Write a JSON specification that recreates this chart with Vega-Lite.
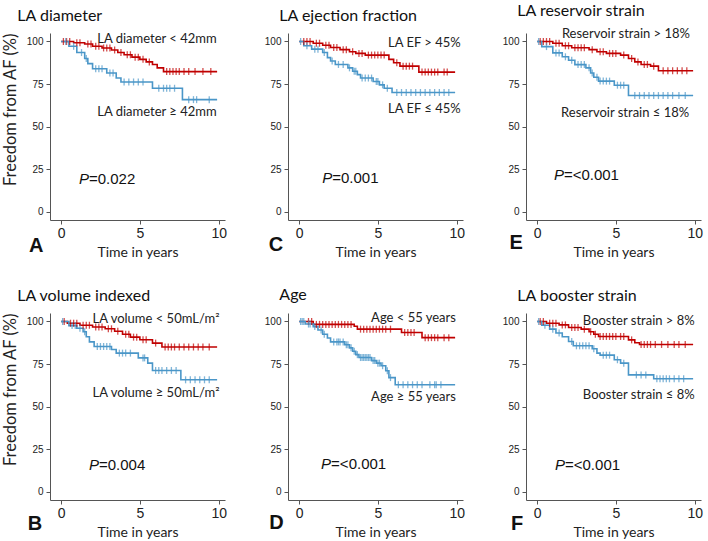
{
"$schema": "https://vega.github.io/schema/vega-lite/v6.json",
"background": "white",
"padding": {"left": 2, "top": 3, "right": 5, "bottom": 3},
"config": {
  "view": {"stroke": null},
  "axis": {"grid": false, "domainColor": "#555", "tickColor": "#555", "labelColor": "#222", "titleColor": "#222", "titleFontWeight": "normal"},
  "axisX": {"labelFont": "Liberation Sans", "labelFontSize": 14, "tickSize": 4, "labelPadding": 2, "titleFont": "Lato", "titleFontSize": 14, "titlePadding": 5},
  "axisY": {"labelFont": "Liberation Sans", "labelFontSize": 10, "tickSize": 4, "labelPadding": 3, "titleFont": "Lato", "titleFontSize": 16.5, "titlePadding": 8, "titleAnchor": "end"},
  "title": {"font": "Lato", "fontSize": 16, "fontWeight": "normal", "anchor": "start", "dx": 15, "offset": 9, "color": "#111"}
},
"datasets": {"d": [
{"p":"A","k":"s","g":"hi","t":0,"s":100},{"p":"A","k":"s","g":"hi","t":0.8,"s":99.3},{"p":"A","k":"s","g":"hi","t":1.5,"s":98.5},{"p":"A","k":"s","g":"hi","t":2,"s":97.2},{"p":"A","k":"s","g":"hi","t":2.6,"s":96.2},{"p":"A","k":"s","g":"hi","t":3.2,"s":95},{"p":"A","k":"s","g":"hi","t":3.6,"s":93.5},{"p":"A","k":"s","g":"hi","t":4,"s":92.2},{"p":"A","k":"s","g":"hi","t":4.5,"s":90.8},{"p":"A","k":"s","g":"hi","t":5,"s":89.5},{"p":"A","k":"s","g":"hi","t":5.4,"s":88},{"p":"A","k":"s","g":"hi","t":5.8,"s":86.5},{"p":"A","k":"s","g":"hi","t":6.1,"s":84.5},{"p":"A","k":"s","g":"hi","t":6.5,"s":82.3},{"p":"A","k":"s","g":"hi","t":9.9,"s":82.3},
{"p":"A","k":"s","g":"lo","t":0,"s":100},{"p":"A","k":"s","g":"lo","t":0.5,"s":97.2},{"p":"A","k":"s","g":"lo","t":1,"s":93.5},{"p":"A","k":"s","g":"lo","t":1.5,"s":90},{"p":"A","k":"s","g":"lo","t":1.7,"s":87},{"p":"A","k":"s","g":"lo","t":2,"s":84},{"p":"A","k":"s","g":"lo","t":2.9,"s":81.5},{"p":"A","k":"s","g":"lo","t":3.5,"s":78.5},{"p":"A","k":"s","g":"lo","t":3.8,"s":76.2},{"p":"A","k":"s","g":"lo","t":5.8,"s":72.5},{"p":"A","k":"s","g":"lo","t":7.7,"s":65.8},{"p":"A","k":"s","g":"lo","t":9.9,"s":65.8},
{"p":"A","k":"c","g":"hi","t":0.15,"s":100},{"p":"A","k":"c","g":"hi","t":0.35,"s":100},{"p":"A","k":"c","g":"hi","t":0.55,"s":100},{"p":"A","k":"c","g":"hi","t":1,"s":99.3},{"p":"A","k":"c","g":"hi","t":1.2,"s":99.3},{"p":"A","k":"c","g":"hi","t":1.7,"s":98.5},{"p":"A","k":"c","g":"hi","t":1.9,"s":98.5},{"p":"A","k":"c","g":"hi","t":2.2,"s":97.2},{"p":"A","k":"c","g":"hi","t":2.4,"s":97.2},{"p":"A","k":"c","g":"hi","t":2.7,"s":96.2},{"p":"A","k":"c","g":"hi","t":2.9,"s":96.2},{"p":"A","k":"c","g":"hi","t":3.1,"s":96.2},{"p":"A","k":"c","g":"hi","t":3.4,"s":95},{"p":"A","k":"c","g":"hi","t":3.8,"s":93.5},{"p":"A","k":"c","g":"hi","t":4.2,"s":92.2},{"p":"A","k":"c","g":"hi","t":4.4,"s":92.2},{"p":"A","k":"c","g":"hi","t":4.7,"s":90.8},{"p":"A","k":"c","g":"hi","t":4.9,"s":90.8},{"p":"A","k":"c","g":"hi","t":5.2,"s":89.5},{"p":"A","k":"c","g":"hi","t":5.6,"s":88},{"p":"A","k":"c","g":"hi","t":6.7,"s":82.3},{"p":"A","k":"c","g":"hi","t":6.9,"s":82.3},{"p":"A","k":"c","g":"hi","t":7.1,"s":82.3},{"p":"A","k":"c","g":"hi","t":7.3,"s":82.3},{"p":"A","k":"c","g":"hi","t":7.5,"s":82.3},{"p":"A","k":"c","g":"hi","t":7.8,"s":82.3},{"p":"A","k":"c","g":"hi","t":8.1,"s":82.3},{"p":"A","k":"c","g":"hi","t":8.5,"s":82.3},{"p":"A","k":"c","g":"hi","t":9,"s":82.3},{"p":"A","k":"c","g":"hi","t":9.5,"s":82.3},
{"p":"A","k":"c","g":"lo","t":0.3,"s":100},{"p":"A","k":"c","g":"lo","t":0.8,"s":97.2},{"p":"A","k":"c","g":"lo","t":1.3,"s":93.5},{"p":"A","k":"c","g":"lo","t":1.6,"s":90},{"p":"A","k":"c","g":"lo","t":2.2,"s":84},{"p":"A","k":"c","g":"lo","t":2.4,"s":84},{"p":"A","k":"c","g":"lo","t":2.6,"s":84},{"p":"A","k":"c","g":"lo","t":3.1,"s":81.5},{"p":"A","k":"c","g":"lo","t":3.3,"s":81.5},{"p":"A","k":"c","g":"lo","t":4,"s":76.2},{"p":"A","k":"c","g":"lo","t":4.3,"s":76.2},{"p":"A","k":"c","g":"lo","t":4.6,"s":76.2},{"p":"A","k":"c","g":"lo","t":4.9,"s":76.2},{"p":"A","k":"c","g":"lo","t":5.2,"s":76.2},{"p":"A","k":"c","g":"lo","t":6.2,"s":72.5},{"p":"A","k":"c","g":"lo","t":6.5,"s":72.5},{"p":"A","k":"c","g":"lo","t":6.7,"s":72.5},{"p":"A","k":"c","g":"lo","t":6.9,"s":72.5},{"p":"A","k":"c","g":"lo","t":7.2,"s":72.5},{"p":"A","k":"c","g":"lo","t":8.1,"s":65.8},{"p":"A","k":"c","g":"lo","t":8.4,"s":65.8},{"p":"A","k":"c","g":"lo","t":8.6,"s":65.8},{"p":"A","k":"c","g":"lo","t":9.4,"s":65.8},
{"p":"A","k":"l","t":9.87,"s":99.2,"txt":"LA diameter < 42mm"},{"p":"A","k":"l","t":9.87,"s":56.3,"txt":"LA diameter ≥ 42mm"},{"p":"A","k":"p","t":1.14,"s":16.3,"txt":"=0.022"},{"p":"A","k":"n","t":-1.58,"s":-23.7,"txt":"A"},

{"p":"C","k":"s","g":"hi","t":0,"s":100},{"p":"C","k":"s","g":"hi","t":0.9,"s":99},{"p":"C","k":"s","g":"hi","t":1.5,"s":97.8},{"p":"C","k":"s","g":"hi","t":2,"s":96.5},{"p":"C","k":"s","g":"hi","t":2.6,"s":95.2},{"p":"C","k":"s","g":"hi","t":3.2,"s":94},{"p":"C","k":"s","g":"hi","t":3.6,"s":93},{"p":"C","k":"s","g":"hi","t":4.2,"s":92},{"p":"C","k":"s","g":"hi","t":5.7,"s":89.5},{"p":"C","k":"s","g":"hi","t":6,"s":87.5},{"p":"C","k":"s","g":"hi","t":6.4,"s":85.5},{"p":"C","k":"s","g":"hi","t":7.6,"s":82},{"p":"C","k":"s","g":"hi","t":9.9,"s":82},
{"p":"C","k":"s","g":"lo","t":0,"s":100},{"p":"C","k":"s","g":"lo","t":0.3,"s":97.5},{"p":"C","k":"s","g":"lo","t":0.8,"s":95.5},{"p":"C","k":"s","g":"lo","t":1.5,"s":93.5},{"p":"C","k":"s","g":"lo","t":1.8,"s":90.5},{"p":"C","k":"s","g":"lo","t":2,"s":88.5},{"p":"C","k":"s","g":"lo","t":2.3,"s":86.5},{"p":"C","k":"s","g":"lo","t":3.1,"s":84.5},{"p":"C","k":"s","g":"lo","t":3.4,"s":82.5},{"p":"C","k":"s","g":"lo","t":3.7,"s":80.5},{"p":"C","k":"s","g":"lo","t":3.9,"s":78.5},{"p":"C","k":"s","g":"lo","t":4.7,"s":76.5},{"p":"C","k":"s","g":"lo","t":5.1,"s":74.5},{"p":"C","k":"s","g":"lo","t":5.4,"s":72.5},{"p":"C","k":"s","g":"lo","t":5.9,"s":70},{"p":"C","k":"s","g":"lo","t":9.9,"s":70},
{"p":"C","k":"c","g":"hi","t":0.3,"s":100},{"p":"C","k":"c","g":"hi","t":0.5,"s":100},{"p":"C","k":"c","g":"hi","t":0.7,"s":100},{"p":"C","k":"c","g":"hi","t":1.1,"s":99},{"p":"C","k":"c","g":"hi","t":1.3,"s":99},{"p":"C","k":"c","g":"hi","t":1.7,"s":97.8},{"p":"C","k":"c","g":"hi","t":1.9,"s":97.8},{"p":"C","k":"c","g":"hi","t":2.2,"s":96.5},{"p":"C","k":"c","g":"hi","t":2.4,"s":96.5},{"p":"C","k":"c","g":"hi","t":2.8,"s":95.2},{"p":"C","k":"c","g":"hi","t":3,"s":95.2},{"p":"C","k":"c","g":"hi","t":3.4,"s":94},{"p":"C","k":"c","g":"hi","t":3.8,"s":93},{"p":"C","k":"c","g":"hi","t":4,"s":93},{"p":"C","k":"c","g":"hi","t":4.4,"s":92},{"p":"C","k":"c","g":"hi","t":4.6,"s":92},{"p":"C","k":"c","g":"hi","t":4.8,"s":92},{"p":"C","k":"c","g":"hi","t":5,"s":92},{"p":"C","k":"c","g":"hi","t":5.2,"s":92},{"p":"C","k":"c","g":"hi","t":5.4,"s":92},{"p":"C","k":"c","g":"hi","t":6.2,"s":87.5},{"p":"C","k":"c","g":"hi","t":6.6,"s":85.5},{"p":"C","k":"c","g":"hi","t":6.8,"s":85.5},{"p":"C","k":"c","g":"hi","t":7,"s":85.5},{"p":"C","k":"c","g":"hi","t":7.2,"s":85.5},{"p":"C","k":"c","g":"hi","t":7.8,"s":82},{"p":"C","k":"c","g":"hi","t":8,"s":82},{"p":"C","k":"c","g":"hi","t":8.2,"s":82},{"p":"C","k":"c","g":"hi","t":8.4,"s":82},{"p":"C","k":"c","g":"hi","t":8.6,"s":82},{"p":"C","k":"c","g":"hi","t":8.8,"s":82},{"p":"C","k":"c","g":"hi","t":9.2,"s":82},{"p":"C","k":"c","g":"hi","t":9.4,"s":82},
{"p":"C","k":"c","g":"lo","t":0.1,"s":100},{"p":"C","k":"c","g":"lo","t":0.5,"s":97.5},{"p":"C","k":"c","g":"lo","t":1,"s":95.5},{"p":"C","k":"c","g":"lo","t":1.2,"s":95.5},{"p":"C","k":"c","g":"lo","t":1.6,"s":93.5},{"p":"C","k":"c","g":"lo","t":2.1,"s":88.5},{"p":"C","k":"c","g":"lo","t":2.5,"s":86.5},{"p":"C","k":"c","g":"lo","t":2.8,"s":86.5},{"p":"C","k":"c","g":"lo","t":3.2,"s":84.5},{"p":"C","k":"c","g":"lo","t":3.5,"s":82.5},{"p":"C","k":"c","g":"lo","t":3.6,"s":82.5},{"p":"C","k":"c","g":"lo","t":4,"s":78.5},{"p":"C","k":"c","g":"lo","t":4.2,"s":78.5},{"p":"C","k":"c","g":"lo","t":4.4,"s":78.5},{"p":"C","k":"c","g":"lo","t":4.6,"s":78.5},{"p":"C","k":"c","g":"lo","t":4.9,"s":76.5},{"p":"C","k":"c","g":"lo","t":5,"s":76.5},{"p":"C","k":"c","g":"lo","t":5.3,"s":74.5},{"p":"C","k":"c","g":"lo","t":5.6,"s":72.5},{"p":"C","k":"c","g":"lo","t":6.2,"s":70},{"p":"C","k":"c","g":"lo","t":6.5,"s":70},{"p":"C","k":"c","g":"lo","t":6.8,"s":70},{"p":"C","k":"c","g":"lo","t":7.1,"s":70},{"p":"C","k":"c","g":"lo","t":7.4,"s":70},{"p":"C","k":"c","g":"lo","t":7.7,"s":70},{"p":"C","k":"c","g":"lo","t":8,"s":70},{"p":"C","k":"c","g":"lo","t":8.3,"s":70},{"p":"C","k":"c","g":"lo","t":8.6,"s":70},{"p":"C","k":"c","g":"lo","t":8.9,"s":70},{"p":"C","k":"c","g":"lo","t":9.2,"s":70},{"p":"C","k":"c","g":"lo","t":9.5,"s":70},
{"p":"C","k":"l","t":10.25,"s":97,"txt":"LA EF > 45%"},{"p":"C","k":"l","t":10.25,"s":58,"txt":"LA EF ≤ 45%"},{"p":"C","k":"p","t":1.47,"s":16.9,"txt":"=0.001"},{"p":"C","k":"n","t":-1.47,"s":-23,"txt":"C"},

{"p":"E","k":"s","g":"hi","t":0,"s":100},{"p":"E","k":"s","g":"hi","t":1,"s":99},{"p":"E","k":"s","g":"hi","t":1.6,"s":97.5},{"p":"E","k":"s","g":"hi","t":2.2,"s":96.3},{"p":"E","k":"s","g":"hi","t":3.3,"s":95.2},{"p":"E","k":"s","g":"hi","t":3.8,"s":94},{"p":"E","k":"s","g":"hi","t":4.4,"s":93},{"p":"E","k":"s","g":"hi","t":5.3,"s":92},{"p":"E","k":"s","g":"hi","t":5.8,"s":90},{"p":"E","k":"s","g":"hi","t":6.2,"s":88},{"p":"E","k":"s","g":"hi","t":6.6,"s":86.5},{"p":"E","k":"s","g":"hi","t":7.2,"s":85.5},{"p":"E","k":"s","g":"hi","t":7.7,"s":82.8},{"p":"E","k":"s","g":"hi","t":9.9,"s":82.8},
{"p":"E","k":"s","g":"lo","t":0,"s":100},{"p":"E","k":"s","g":"lo","t":0.3,"s":97},{"p":"E","k":"s","g":"lo","t":1,"s":93.3},{"p":"E","k":"s","g":"lo","t":1.6,"s":91},{"p":"E","k":"s","g":"lo","t":2,"s":89},{"p":"E","k":"s","g":"lo","t":2.4,"s":86.4},{"p":"E","k":"s","g":"lo","t":3.1,"s":84.5},{"p":"E","k":"s","g":"lo","t":3.4,"s":81.5},{"p":"E","k":"s","g":"lo","t":3.6,"s":79},{"p":"E","k":"s","g":"lo","t":3.9,"s":76.7},{"p":"E","k":"s","g":"lo","t":4.9,"s":74.3},{"p":"E","k":"s","g":"lo","t":5.8,"s":68.2},{"p":"E","k":"s","g":"lo","t":9.9,"s":68.2},
{"p":"E","k":"c","g":"hi","t":0.2,"s":100},{"p":"E","k":"c","g":"hi","t":0.4,"s":100},{"p":"E","k":"c","g":"hi","t":0.6,"s":100},{"p":"E","k":"c","g":"hi","t":0.8,"s":100},{"p":"E","k":"c","g":"hi","t":1.2,"s":99},{"p":"E","k":"c","g":"hi","t":1.4,"s":99},{"p":"E","k":"c","g":"hi","t":1.8,"s":97.5},{"p":"E","k":"c","g":"hi","t":2,"s":97.5},{"p":"E","k":"c","g":"hi","t":2.4,"s":96.3},{"p":"E","k":"c","g":"hi","t":2.6,"s":96.3},{"p":"E","k":"c","g":"hi","t":2.8,"s":96.3},{"p":"E","k":"c","g":"hi","t":3,"s":96.3},{"p":"E","k":"c","g":"hi","t":3.5,"s":95.2},{"p":"E","k":"c","g":"hi","t":4,"s":94},{"p":"E","k":"c","g":"hi","t":4.2,"s":94},{"p":"E","k":"c","g":"hi","t":4.6,"s":93},{"p":"E","k":"c","g":"hi","t":4.8,"s":93},{"p":"E","k":"c","g":"hi","t":5,"s":93},{"p":"E","k":"c","g":"hi","t":5.5,"s":92},{"p":"E","k":"c","g":"hi","t":6,"s":90},{"p":"E","k":"c","g":"hi","t":6.4,"s":88},{"p":"E","k":"c","g":"hi","t":6.8,"s":86.5},{"p":"E","k":"c","g":"hi","t":7,"s":86.5},{"p":"E","k":"c","g":"hi","t":7.4,"s":85.5},{"p":"E","k":"c","g":"hi","t":8,"s":82.8},{"p":"E","k":"c","g":"hi","t":8.3,"s":82.8},{"p":"E","k":"c","g":"hi","t":8.6,"s":82.8},{"p":"E","k":"c","g":"hi","t":8.9,"s":82.8},{"p":"E","k":"c","g":"hi","t":9.2,"s":82.8},{"p":"E","k":"c","g":"hi","t":9.5,"s":82.8},
{"p":"E","k":"c","g":"lo","t":0.1,"s":100},{"p":"E","k":"c","g":"lo","t":0.6,"s":97},{"p":"E","k":"c","g":"lo","t":1.2,"s":93.3},{"p":"E","k":"c","g":"lo","t":1.4,"s":93.3},{"p":"E","k":"c","g":"lo","t":1.8,"s":91},{"p":"E","k":"c","g":"lo","t":2.2,"s":89},{"p":"E","k":"c","g":"lo","t":2.6,"s":86.4},{"p":"E","k":"c","g":"lo","t":2.8,"s":86.4},{"p":"E","k":"c","g":"lo","t":3,"s":86.4},{"p":"E","k":"c","g":"lo","t":3.3,"s":84.5},{"p":"E","k":"c","g":"lo","t":3.5,"s":81.5},{"p":"E","k":"c","g":"lo","t":3.8,"s":79},{"p":"E","k":"c","g":"lo","t":4,"s":76.7},{"p":"E","k":"c","g":"lo","t":4.2,"s":76.7},{"p":"E","k":"c","g":"lo","t":4.4,"s":76.7},{"p":"E","k":"c","g":"lo","t":4.6,"s":76.7},{"p":"E","k":"c","g":"lo","t":5.1,"s":74.3},{"p":"E","k":"c","g":"lo","t":5.3,"s":74.3},{"p":"E","k":"c","g":"lo","t":5.5,"s":74.3},{"p":"E","k":"c","g":"lo","t":6.2,"s":68.2},{"p":"E","k":"c","g":"lo","t":6.5,"s":68.2},{"p":"E","k":"c","g":"lo","t":6.8,"s":68.2},{"p":"E","k":"c","g":"lo","t":7.1,"s":68.2},{"p":"E","k":"c","g":"lo","t":7.4,"s":68.2},{"p":"E","k":"c","g":"lo","t":7.7,"s":68.2},{"p":"E","k":"c","g":"lo","t":8,"s":68.2},{"p":"E","k":"c","g":"lo","t":8.3,"s":68.2},{"p":"E","k":"c","g":"lo","t":8.6,"s":68.2},{"p":"E","k":"c","g":"lo","t":9,"s":68.2},{"p":"E","k":"c","g":"lo","t":9.4,"s":68.2},
{"p":"E","k":"l","t":9.7,"s":102,"txt":"Reservoir strain > 18%"},{"p":"E","k":"l","t":9.65,"s":55.6,"txt":"Reservoir strain ≤ 18%"},{"p":"E","k":"p","t":1.07,"s":18.3,"txt":"=<0.001"},{"p":"E","k":"n","t":-1.32,"s":-22,"txt":"E"},

{"p":"B","k":"s","g":"hi","t":0,"s":100},{"p":"B","k":"s","g":"hi","t":0.4,"s":99},{"p":"B","k":"s","g":"hi","t":1.2,"s":97.8},{"p":"B","k":"s","g":"hi","t":2,"s":96.8},{"p":"B","k":"s","g":"hi","t":2.8,"s":95.7},{"p":"B","k":"s","g":"hi","t":3.4,"s":94.3},{"p":"B","k":"s","g":"hi","t":3.9,"s":92.5},{"p":"B","k":"s","g":"hi","t":4.4,"s":90.8},{"p":"B","k":"s","g":"hi","t":5,"s":89.3},{"p":"B","k":"s","g":"hi","t":5.8,"s":87.3},{"p":"B","k":"s","g":"hi","t":6.4,"s":85},{"p":"B","k":"s","g":"hi","t":9.9,"s":85},
{"p":"B","k":"s","g":"lo","t":0,"s":100},{"p":"B","k":"s","g":"lo","t":0.5,"s":97.6},{"p":"B","k":"s","g":"lo","t":1,"s":96},{"p":"B","k":"s","g":"lo","t":1.4,"s":94},{"p":"B","k":"s","g":"lo","t":1.6,"s":91},{"p":"B","k":"s","g":"lo","t":1.8,"s":88},{"p":"B","k":"s","g":"lo","t":2.1,"s":85.3},{"p":"B","k":"s","g":"lo","t":3.2,"s":83.5},{"p":"B","k":"s","g":"lo","t":3.5,"s":81.4},{"p":"B","k":"s","g":"lo","t":4.9,"s":78.6},{"p":"B","k":"s","g":"lo","t":5.5,"s":75.5},{"p":"B","k":"s","g":"lo","t":5.8,"s":71.2},{"p":"B","k":"s","g":"lo","t":7.6,"s":65.7},{"p":"B","k":"s","g":"lo","t":9.9,"s":65.7},
{"p":"B","k":"c","g":"hi","t":0.2,"s":100},{"p":"B","k":"c","g":"hi","t":0.6,"s":99},{"p":"B","k":"c","g":"hi","t":0.8,"s":99},{"p":"B","k":"c","g":"hi","t":1,"s":99},{"p":"B","k":"c","g":"hi","t":1.4,"s":97.8},{"p":"B","k":"c","g":"hi","t":1.6,"s":97.8},{"p":"B","k":"c","g":"hi","t":1.8,"s":97.8},{"p":"B","k":"c","g":"hi","t":2.2,"s":96.8},{"p":"B","k":"c","g":"hi","t":2.4,"s":96.8},{"p":"B","k":"c","g":"hi","t":2.6,"s":96.8},{"p":"B","k":"c","g":"hi","t":3,"s":95.7},{"p":"B","k":"c","g":"hi","t":3.2,"s":95.7},{"p":"B","k":"c","g":"hi","t":3.6,"s":94.3},{"p":"B","k":"c","g":"hi","t":4.1,"s":92.5},{"p":"B","k":"c","g":"hi","t":4.3,"s":92.5},{"p":"B","k":"c","g":"hi","t":4.6,"s":90.8},{"p":"B","k":"c","g":"hi","t":4.8,"s":90.8},{"p":"B","k":"c","g":"hi","t":5.2,"s":89.3},{"p":"B","k":"c","g":"hi","t":5.4,"s":89.3},{"p":"B","k":"c","g":"hi","t":6,"s":87.3},{"p":"B","k":"c","g":"hi","t":6.6,"s":85},{"p":"B","k":"c","g":"hi","t":6.8,"s":85},{"p":"B","k":"c","g":"hi","t":7,"s":85},{"p":"B","k":"c","g":"hi","t":7.2,"s":85},{"p":"B","k":"c","g":"hi","t":7.5,"s":85},{"p":"B","k":"c","g":"hi","t":7.8,"s":85},{"p":"B","k":"c","g":"hi","t":8.1,"s":85},{"p":"B","k":"c","g":"hi","t":8.4,"s":85},{"p":"B","k":"c","g":"hi","t":8.7,"s":85},{"p":"B","k":"c","g":"hi","t":9,"s":85},{"p":"B","k":"c","g":"hi","t":9.4,"s":85},
{"p":"B","k":"c","g":"lo","t":0.1,"s":100},{"p":"B","k":"c","g":"lo","t":0.7,"s":97.6},{"p":"B","k":"c","g":"lo","t":0.9,"s":97.6},{"p":"B","k":"c","g":"lo","t":1.2,"s":96},{"p":"B","k":"c","g":"lo","t":1.5,"s":94},{"p":"B","k":"c","g":"lo","t":2.3,"s":85.3},{"p":"B","k":"c","g":"lo","t":2.5,"s":85.3},{"p":"B","k":"c","g":"lo","t":2.7,"s":85.3},{"p":"B","k":"c","g":"lo","t":2.9,"s":85.3},{"p":"B","k":"c","g":"lo","t":3.1,"s":85.3},{"p":"B","k":"c","g":"lo","t":3.7,"s":81.4},{"p":"B","k":"c","g":"lo","t":3.9,"s":81.4},{"p":"B","k":"c","g":"lo","t":4.1,"s":81.4},{"p":"B","k":"c","g":"lo","t":4.4,"s":81.4},{"p":"B","k":"c","g":"lo","t":5.2,"s":78.6},{"p":"B","k":"c","g":"lo","t":5.3,"s":78.6},{"p":"B","k":"c","g":"lo","t":6,"s":71.2},{"p":"B","k":"c","g":"lo","t":6.2,"s":71.2},{"p":"B","k":"c","g":"lo","t":6.4,"s":71.2},{"p":"B","k":"c","g":"lo","t":6.7,"s":71.2},{"p":"B","k":"c","g":"lo","t":7,"s":71.2},{"p":"B","k":"c","g":"lo","t":7.3,"s":71.2},{"p":"B","k":"c","g":"lo","t":7.9,"s":65.7},{"p":"B","k":"c","g":"lo","t":8.2,"s":65.7},{"p":"B","k":"c","g":"lo","t":8.5,"s":65.7},{"p":"B","k":"c","g":"lo","t":8.8,"s":65.7},{"p":"B","k":"c","g":"lo","t":9.1,"s":65.7},{"p":"B","k":"c","g":"lo","t":9.4,"s":65.7},
{"p":"B","k":"l","t":10.05,"s":99.4,"txt":"LA volume < 50mL/m²"},{"p":"B","k":"l","t":10.05,"s":55.3,"txt":"LA volume ≥ 50mL/m²"},{"p":"B","k":"p","t":1.77,"s":12.4,"txt":"=0.004"},{"p":"B","k":"n","t":-1.65,"s":-22.4,"txt":"B"},

{"p":"D","k":"s","g":"hi","t":0,"s":100},{"p":"D","k":"s","g":"hi","t":0.9,"s":98.3},{"p":"D","k":"s","g":"hi","t":3.5,"s":97.2},{"p":"D","k":"s","g":"hi","t":3.7,"s":95.5},{"p":"D","k":"s","g":"hi","t":6.5,"s":93.5},{"p":"D","k":"s","g":"hi","t":7.8,"s":90.5},{"p":"D","k":"s","g":"hi","t":9.9,"s":90.5},
{"p":"D","k":"s","g":"lo","t":0,"s":100},{"p":"D","k":"s","g":"lo","t":0.4,"s":98.5},{"p":"D","k":"s","g":"lo","t":0.9,"s":97},{"p":"D","k":"s","g":"lo","t":1.2,"s":95},{"p":"D","k":"s","g":"lo","t":1.5,"s":92.5},{"p":"D","k":"s","g":"lo","t":1.8,"s":90.3},{"p":"D","k":"s","g":"lo","t":2,"s":88},{"p":"D","k":"s","g":"lo","t":2.9,"s":86.3},{"p":"D","k":"s","g":"lo","t":3.2,"s":84.5},{"p":"D","k":"s","g":"lo","t":3.4,"s":82.5},{"p":"D","k":"s","g":"lo","t":3.6,"s":80.5},{"p":"D","k":"s","g":"lo","t":3.8,"s":78.8},{"p":"D","k":"s","g":"lo","t":4.6,"s":77},{"p":"D","k":"s","g":"lo","t":4.9,"s":75.5},{"p":"D","k":"s","g":"lo","t":5.2,"s":74},{"p":"D","k":"s","g":"lo","t":5.5,"s":71},{"p":"D","k":"s","g":"lo","t":5.7,"s":67},{"p":"D","k":"s","g":"lo","t":6.1,"s":62.8},{"p":"D","k":"s","g":"lo","t":9.9,"s":62.8},
{"p":"D","k":"c","g":"hi","t":0.6,"s":100},{"p":"D","k":"c","g":"hi","t":0.8,"s":100},{"p":"D","k":"c","g":"hi","t":1.1,"s":98.3},{"p":"D","k":"c","g":"hi","t":1.3,"s":98.3},{"p":"D","k":"c","g":"hi","t":1.5,"s":98.3},{"p":"D","k":"c","g":"hi","t":1.7,"s":98.3},{"p":"D","k":"c","g":"hi","t":1.9,"s":98.3},{"p":"D","k":"c","g":"hi","t":2.1,"s":98.3},{"p":"D","k":"c","g":"hi","t":2.3,"s":98.3},{"p":"D","k":"c","g":"hi","t":2.5,"s":98.3},{"p":"D","k":"c","g":"hi","t":2.7,"s":98.3},{"p":"D","k":"c","g":"hi","t":2.9,"s":98.3},{"p":"D","k":"c","g":"hi","t":3.1,"s":98.3},{"p":"D","k":"c","g":"hi","t":3.3,"s":98.3},{"p":"D","k":"c","g":"hi","t":3.9,"s":95.5},{"p":"D","k":"c","g":"hi","t":4.1,"s":95.5},{"p":"D","k":"c","g":"hi","t":4.3,"s":95.5},{"p":"D","k":"c","g":"hi","t":4.5,"s":95.5},{"p":"D","k":"c","g":"hi","t":4.7,"s":95.5},{"p":"D","k":"c","g":"hi","t":4.9,"s":95.5},{"p":"D","k":"c","g":"hi","t":5.1,"s":95.5},{"p":"D","k":"c","g":"hi","t":5.3,"s":95.5},{"p":"D","k":"c","g":"hi","t":5.5,"s":95.5},{"p":"D","k":"c","g":"hi","t":5.8,"s":95.5},{"p":"D","k":"c","g":"hi","t":6.7,"s":93.5},{"p":"D","k":"c","g":"hi","t":6.9,"s":93.5},{"p":"D","k":"c","g":"hi","t":7.1,"s":93.5},{"p":"D","k":"c","g":"hi","t":7.3,"s":93.5},{"p":"D","k":"c","g":"hi","t":8,"s":90.5},{"p":"D","k":"c","g":"hi","t":8.2,"s":90.5},{"p":"D","k":"c","g":"hi","t":8.4,"s":90.5},{"p":"D","k":"c","g":"hi","t":8.6,"s":90.5},{"p":"D","k":"c","g":"hi","t":8.8,"s":90.5},{"p":"D","k":"c","g":"hi","t":9.2,"s":90.5},{"p":"D","k":"c","g":"hi","t":9.5,"s":90.5},
{"p":"D","k":"c","g":"lo","t":0.1,"s":100},{"p":"D","k":"c","g":"lo","t":0.2,"s":100},{"p":"D","k":"c","g":"lo","t":0.3,"s":100},{"p":"D","k":"c","g":"lo","t":0.6,"s":98.5},{"p":"D","k":"c","g":"lo","t":0.7,"s":98.5},{"p":"D","k":"c","g":"lo","t":1,"s":97},{"p":"D","k":"c","g":"lo","t":1.4,"s":95},{"p":"D","k":"c","g":"lo","t":1.6,"s":92.5},{"p":"D","k":"c","g":"lo","t":2.2,"s":88},{"p":"D","k":"c","g":"lo","t":2.4,"s":88},{"p":"D","k":"c","g":"lo","t":2.5,"s":88},{"p":"D","k":"c","g":"lo","t":2.6,"s":88},{"p":"D","k":"c","g":"lo","t":2.8,"s":88},{"p":"D","k":"c","g":"lo","t":3,"s":86.3},{"p":"D","k":"c","g":"lo","t":3.1,"s":86.3},{"p":"D","k":"c","g":"lo","t":3.3,"s":84.5},{"p":"D","k":"c","g":"lo","t":3.5,"s":82.5},{"p":"D","k":"c","g":"lo","t":3.7,"s":80.5},{"p":"D","k":"c","g":"lo","t":3.9,"s":78.8},{"p":"D","k":"c","g":"lo","t":4,"s":78.8},{"p":"D","k":"c","g":"lo","t":4.1,"s":78.8},{"p":"D","k":"c","g":"lo","t":4.2,"s":78.8},{"p":"D","k":"c","g":"lo","t":4.3,"s":78.8},{"p":"D","k":"c","g":"lo","t":4.4,"s":78.8},{"p":"D","k":"c","g":"lo","t":4.5,"s":78.8},{"p":"D","k":"c","g":"lo","t":4.7,"s":77},{"p":"D","k":"c","g":"lo","t":4.8,"s":77},{"p":"D","k":"c","g":"lo","t":5,"s":75.5},{"p":"D","k":"c","g":"lo","t":5.1,"s":75.5},{"p":"D","k":"c","g":"lo","t":5.3,"s":74},{"p":"D","k":"c","g":"lo","t":5.6,"s":71},{"p":"D","k":"c","g":"lo","t":5.8,"s":67},{"p":"D","k":"c","g":"lo","t":6.3,"s":62.8},{"p":"D","k":"c","g":"lo","t":6.6,"s":62.8},{"p":"D","k":"c","g":"lo","t":6.9,"s":62.8},{"p":"D","k":"c","g":"lo","t":7.2,"s":62.8},{"p":"D","k":"c","g":"lo","t":7.5,"s":62.8},{"p":"D","k":"c","g":"lo","t":7.8,"s":62.8},{"p":"D","k":"c","g":"lo","t":8.3,"s":62.8},{"p":"D","k":"c","g":"lo","t":8.6,"s":62.8},{"p":"D","k":"c","g":"lo","t":8.7,"s":62.8},{"p":"D","k":"c","g":"lo","t":9,"s":62.8},
{"p":"D","k":"l","t":9.95,"s":100,"txt":"Age < 55 years"},{"p":"D","k":"l","t":9.95,"s":53,"txt":"Age ≥ 55 years"},{"p":"D","k":"p","t":1.4,"s":13,"txt":"=<0.001"},{"p":"D","k":"n","t":-1.43,"s":-21.8,"txt":"D"},

{"p":"F","k":"s","g":"hi","t":0,"s":100},{"p":"F","k":"s","g":"hi","t":0.6,"s":99},{"p":"F","k":"s","g":"hi","t":1.4,"s":98},{"p":"F","k":"s","g":"hi","t":2,"s":96.5},{"p":"F","k":"s","g":"hi","t":2.8,"s":95.5},{"p":"F","k":"s","g":"hi","t":3.3,"s":94},{"p":"F","k":"s","g":"hi","t":3.6,"s":92.5},{"p":"F","k":"s","g":"hi","t":3.9,"s":91.2},{"p":"F","k":"s","g":"hi","t":5.8,"s":89.2},{"p":"F","k":"s","g":"hi","t":6.2,"s":87.5},{"p":"F","k":"s","g":"hi","t":6.5,"s":86.5},{"p":"F","k":"s","g":"hi","t":9.9,"s":86.5},
{"p":"F","k":"s","g":"lo","t":0,"s":100},{"p":"F","k":"s","g":"lo","t":0.3,"s":97.8},{"p":"F","k":"s","g":"lo","t":0.8,"s":95.5},{"p":"F","k":"s","g":"lo","t":1.2,"s":93.2},{"p":"F","k":"s","g":"lo","t":1.6,"s":91},{"p":"F","k":"s","g":"lo","t":2,"s":88.2},{"p":"F","k":"s","g":"lo","t":2.3,"s":85.7},{"p":"F","k":"s","g":"lo","t":3.5,"s":84},{"p":"F","k":"s","g":"lo","t":3.8,"s":81.4},{"p":"F","k":"s","g":"lo","t":4,"s":80.2},{"p":"F","k":"s","g":"lo","t":4.9,"s":77.5},{"p":"F","k":"s","g":"lo","t":5.3,"s":75.5},{"p":"F","k":"s","g":"lo","t":5.8,"s":68.6},{"p":"F","k":"s","g":"lo","t":7.4,"s":66.3},{"p":"F","k":"s","g":"lo","t":9.9,"s":66.3},
{"p":"F","k":"c","g":"hi","t":0.2,"s":100},{"p":"F","k":"c","g":"hi","t":0.4,"s":100},{"p":"F","k":"c","g":"hi","t":0.8,"s":99},{"p":"F","k":"c","g":"hi","t":1,"s":99},{"p":"F","k":"c","g":"hi","t":1.2,"s":99},{"p":"F","k":"c","g":"hi","t":1.6,"s":98},{"p":"F","k":"c","g":"hi","t":1.8,"s":98},{"p":"F","k":"c","g":"hi","t":2.2,"s":96.5},{"p":"F","k":"c","g":"hi","t":2.4,"s":96.5},{"p":"F","k":"c","g":"hi","t":2.6,"s":96.5},{"p":"F","k":"c","g":"hi","t":3,"s":95.5},{"p":"F","k":"c","g":"hi","t":3.4,"s":94},{"p":"F","k":"c","g":"hi","t":3.7,"s":92.5},{"p":"F","k":"c","g":"hi","t":4,"s":91.2},{"p":"F","k":"c","g":"hi","t":4.2,"s":91.2},{"p":"F","k":"c","g":"hi","t":4.4,"s":91.2},{"p":"F","k":"c","g":"hi","t":4.6,"s":91.2},{"p":"F","k":"c","g":"hi","t":4.8,"s":91.2},{"p":"F","k":"c","g":"hi","t":5,"s":91.2},{"p":"F","k":"c","g":"hi","t":5.3,"s":91.2},{"p":"F","k":"c","g":"hi","t":5.5,"s":91.2},{"p":"F","k":"c","g":"hi","t":6,"s":89.2},{"p":"F","k":"c","g":"hi","t":6.6,"s":86.5},{"p":"F","k":"c","g":"hi","t":6.8,"s":86.5},{"p":"F","k":"c","g":"hi","t":7,"s":86.5},{"p":"F","k":"c","g":"hi","t":7.2,"s":86.5},{"p":"F","k":"c","g":"hi","t":7.5,"s":86.5},{"p":"F","k":"c","g":"hi","t":7.9,"s":86.5},{"p":"F","k":"c","g":"hi","t":8.3,"s":86.5},{"p":"F","k":"c","g":"hi","t":8.7,"s":86.5},{"p":"F","k":"c","g":"hi","t":9,"s":86.5},{"p":"F","k":"c","g":"hi","t":9.4,"s":86.5},
{"p":"F","k":"c","g":"lo","t":0.1,"s":100},{"p":"F","k":"c","g":"lo","t":0.5,"s":97.8},{"p":"F","k":"c","g":"lo","t":1,"s":95.5},{"p":"F","k":"c","g":"lo","t":1.4,"s":93.2},{"p":"F","k":"c","g":"lo","t":2.2,"s":88.2},{"p":"F","k":"c","g":"lo","t":2.5,"s":85.7},{"p":"F","k":"c","g":"lo","t":2.7,"s":85.7},{"p":"F","k":"c","g":"lo","t":2.9,"s":85.7},{"p":"F","k":"c","g":"lo","t":3.1,"s":85.7},{"p":"F","k":"c","g":"lo","t":3.3,"s":85.7},{"p":"F","k":"c","g":"lo","t":3.6,"s":84},{"p":"F","k":"c","g":"lo","t":4.2,"s":80.2},{"p":"F","k":"c","g":"lo","t":4.4,"s":80.2},{"p":"F","k":"c","g":"lo","t":4.6,"s":80.2},{"p":"F","k":"c","g":"lo","t":5.1,"s":77.5},{"p":"F","k":"c","g":"lo","t":5.5,"s":75.5},{"p":"F","k":"c","g":"lo","t":6.3,"s":68.6},{"p":"F","k":"c","g":"lo","t":6.6,"s":68.6},{"p":"F","k":"c","g":"lo","t":6.9,"s":68.6},{"p":"F","k":"c","g":"lo","t":7.6,"s":66.3},{"p":"F","k":"c","g":"lo","t":7.8,"s":66.3},{"p":"F","k":"c","g":"lo","t":8,"s":66.3},{"p":"F","k":"c","g":"lo","t":8.2,"s":66.3},{"p":"F","k":"c","g":"lo","t":8.4,"s":66.3},{"p":"F","k":"c","g":"lo","t":8.7,"s":66.3},{"p":"F","k":"c","g":"lo","t":9,"s":66.3},{"p":"F","k":"c","g":"lo","t":9.3,"s":66.3},
{"p":"F","k":"l","t":10,"s":98,"txt":"Booster strain > 8%"},{"p":"F","k":"l","t":10,"s":54.7,"txt":"Booster strain ≤ 8%"},{"p":"F","k":"p","t":1.14,"s":12.4,"txt":"=<0.001"},{"p":"F","k":"n","t":-1.27,"s":-22.4,"txt":"F"}
]},
"data": {"name": "d"},
"columns": 3,
"spacing": {"row": 93, "column": 63},
"bounds": "flush",
"concat": [
  {"title": "LA diameter", "width": 175, "height": 187, "transform": [{"filter": "datum.p == 'A'"}],
   "encoding": {"x": {"field": "t", "type": "quantitative", "scale": {"domain": [-0.7, 10.4], "nice": false, "zero": false}, "axis": {"values": [0, 5, 10], "title": "Time in years"}},
                "y": {"field": "s", "type": "quantitative", "scale": {"domain": [-5, 105], "nice": false, "zero": false}, "axis": {"values": [0, 25, 50, 75, 100], "title": "Freedom from AF (%)"}}},
   "layer": [
    {"transform": [{"filter": "datum.k == 's'"}], "mark": {"type": "line", "interpolate": "step-after", "strokeWidth": 1.6}, "encoding": {"color": {"field": "g", "type": "nominal", "scale": {"domain": ["hi", "lo"], "range": ["#C00000", "#4A96C8"]}, "legend": null}}},
    {"transform": [{"filter": "datum.k == 'c'"}], "mark": {"type": "tick", "orient": "vertical", "size": 7, "thickness": 1.3}, "encoding": {"color": {"field": "g", "type": "nominal", "scale": {"domain": ["hi", "lo"], "range": ["#C00000", "#4A96C8"]}, "legend": null}}},
    {"transform": [{"filter": "datum.k == 'l'"}], "mark": {"type": "text", "align": "right", "baseline": "alphabetic", "font": "Lato", "fontSize": 13, "color": "#222"}, "encoding": {"text": {"field": "txt"}}},
    {"transform": [{"filter": "datum.k == 'p'"}], "mark": {"type": "text", "align": "left", "baseline": "alphabetic", "font": "Liberation Sans", "fontSize": 15, "fontStyle": "italic", "color": "#111"}, "encoding": {"text": {"value": "P"}}},
    {"transform": [{"filter": "datum.k == 'p'"}], "mark": {"type": "text", "align": "left", "baseline": "alphabetic", "font": "Liberation Sans", "fontSize": 15, "dx": 10, "color": "#111"}, "encoding": {"text": {"field": "txt"}}},
    {"transform": [{"filter": "datum.k == 'n'"}], "mark": {"type": "text", "align": "center", "baseline": "alphabetic", "font": "Liberation Sans", "fontSize": 20, "fontWeight": "bold", "color": "#111"}, "encoding": {"text": {"field": "txt"}}}
   ]},
  {"title": "LA ejection fraction", "width": 175, "height": 187, "transform": [{"filter": "datum.p == 'C'"}],
   "encoding": {"x": {"field": "t", "type": "quantitative", "scale": {"domain": [-0.7, 10.4], "nice": false, "zero": false}, "axis": {"values": [0, 5, 10], "title": "Time in years"}},
                "y": {"field": "s", "type": "quantitative", "scale": {"domain": [-5, 105], "nice": false, "zero": false}, "axis": {"values": [0, 25, 50, 75, 100], "title": null}}},
   "layer": [
    {"transform": [{"filter": "datum.k == 's'"}], "mark": {"type": "line", "interpolate": "step-after", "strokeWidth": 1.6}, "encoding": {"color": {"field": "g", "type": "nominal", "scale": {"domain": ["hi", "lo"], "range": ["#C00000", "#4A96C8"]}, "legend": null}}},
    {"transform": [{"filter": "datum.k == 'c'"}], "mark": {"type": "tick", "orient": "vertical", "size": 7, "thickness": 1.3}, "encoding": {"color": {"field": "g", "type": "nominal", "scale": {"domain": ["hi", "lo"], "range": ["#C00000", "#4A96C8"]}, "legend": null}}},
    {"transform": [{"filter": "datum.k == 'l'"}], "mark": {"type": "text", "align": "right", "baseline": "alphabetic", "font": "Lato", "fontSize": 13, "color": "#222"}, "encoding": {"text": {"field": "txt"}}},
    {"transform": [{"filter": "datum.k == 'p'"}], "mark": {"type": "text", "align": "left", "baseline": "alphabetic", "font": "Liberation Sans", "fontSize": 15, "fontStyle": "italic", "color": "#111"}, "encoding": {"text": {"value": "P"}}},
    {"transform": [{"filter": "datum.k == 'p'"}], "mark": {"type": "text", "align": "left", "baseline": "alphabetic", "font": "Liberation Sans", "fontSize": 15, "dx": 10, "color": "#111"}, "encoding": {"text": {"field": "txt"}}},
    {"transform": [{"filter": "datum.k == 'n'"}], "mark": {"type": "text", "align": "center", "baseline": "alphabetic", "font": "Liberation Sans", "fontSize": 20, "fontWeight": "bold", "color": "#111"}, "encoding": {"text": {"field": "txt"}}}
   ]},
  {"title": "LA reservoir strain", "width": 175, "height": 187, "transform": [{"filter": "datum.p == 'E'"}],
   "encoding": {"x": {"field": "t", "type": "quantitative", "scale": {"domain": [-0.7, 10.4], "nice": false, "zero": false}, "axis": {"values": [0, 5, 10], "title": "Time in years"}},
                "y": {"field": "s", "type": "quantitative", "scale": {"domain": [-5, 105], "nice": false, "zero": false}, "axis": {"values": [0, 25, 50, 75, 100], "title": null}}},
   "layer": [
    {"transform": [{"filter": "datum.k == 's'"}], "mark": {"type": "line", "interpolate": "step-after", "strokeWidth": 1.6}, "encoding": {"color": {"field": "g", "type": "nominal", "scale": {"domain": ["hi", "lo"], "range": ["#C00000", "#4A96C8"]}, "legend": null}}},
    {"transform": [{"filter": "datum.k == 'c'"}], "mark": {"type": "tick", "orient": "vertical", "size": 7, "thickness": 1.3}, "encoding": {"color": {"field": "g", "type": "nominal", "scale": {"domain": ["hi", "lo"], "range": ["#C00000", "#4A96C8"]}, "legend": null}}},
    {"transform": [{"filter": "datum.k == 'l'"}], "mark": {"type": "text", "align": "right", "baseline": "alphabetic", "font": "Lato", "fontSize": 13, "color": "#222"}, "encoding": {"text": {"field": "txt"}}},
    {"transform": [{"filter": "datum.k == 'p'"}], "mark": {"type": "text", "align": "left", "baseline": "alphabetic", "font": "Liberation Sans", "fontSize": 15, "fontStyle": "italic", "color": "#111"}, "encoding": {"text": {"value": "P"}}},
    {"transform": [{"filter": "datum.k == 'p'"}], "mark": {"type": "text", "align": "left", "baseline": "alphabetic", "font": "Liberation Sans", "fontSize": 15, "dx": 10, "color": "#111"}, "encoding": {"text": {"field": "txt"}}},
    {"transform": [{"filter": "datum.k == 'n'"}], "mark": {"type": "text", "align": "center", "baseline": "alphabetic", "font": "Liberation Sans", "fontSize": 20, "fontWeight": "bold", "color": "#111"}, "encoding": {"text": {"field": "txt"}}}
   ]},
  {"title": "LA volume indexed", "width": 175, "height": 187, "transform": [{"filter": "datum.p == 'B'"}],
   "encoding": {"x": {"field": "t", "type": "quantitative", "scale": {"domain": [-0.7, 10.4], "nice": false, "zero": false}, "axis": {"values": [0, 5, 10], "title": "Time in years"}},
                "y": {"field": "s", "type": "quantitative", "scale": {"domain": [-5, 105], "nice": false, "zero": false}, "axis": {"values": [0, 25, 50, 75, 100], "title": "Freedom from AF (%)"}}},
   "layer": [
    {"transform": [{"filter": "datum.k == 's'"}], "mark": {"type": "line", "interpolate": "step-after", "strokeWidth": 1.6}, "encoding": {"color": {"field": "g", "type": "nominal", "scale": {"domain": ["hi", "lo"], "range": ["#C00000", "#4A96C8"]}, "legend": null}}},
    {"transform": [{"filter": "datum.k == 'c'"}], "mark": {"type": "tick", "orient": "vertical", "size": 7, "thickness": 1.3}, "encoding": {"color": {"field": "g", "type": "nominal", "scale": {"domain": ["hi", "lo"], "range": ["#C00000", "#4A96C8"]}, "legend": null}}},
    {"transform": [{"filter": "datum.k == 'l'"}], "mark": {"type": "text", "align": "right", "baseline": "alphabetic", "font": "Lato", "fontSize": 13, "color": "#222"}, "encoding": {"text": {"field": "txt"}}},
    {"transform": [{"filter": "datum.k == 'p'"}], "mark": {"type": "text", "align": "left", "baseline": "alphabetic", "font": "Liberation Sans", "fontSize": 15, "fontStyle": "italic", "color": "#111"}, "encoding": {"text": {"value": "P"}}},
    {"transform": [{"filter": "datum.k == 'p'"}], "mark": {"type": "text", "align": "left", "baseline": "alphabetic", "font": "Liberation Sans", "fontSize": 15, "dx": 10, "color": "#111"}, "encoding": {"text": {"field": "txt"}}},
    {"transform": [{"filter": "datum.k == 'n'"}], "mark": {"type": "text", "align": "center", "baseline": "alphabetic", "font": "Liberation Sans", "fontSize": 20, "fontWeight": "bold", "color": "#111"}, "encoding": {"text": {"field": "txt"}}}
   ]},
  {"title": "Age", "width": 175, "height": 187, "transform": [{"filter": "datum.p == 'D'"}],
   "encoding": {"x": {"field": "t", "type": "quantitative", "scale": {"domain": [-0.7, 10.4], "nice": false, "zero": false}, "axis": {"values": [0, 5, 10], "title": "Time in years"}},
                "y": {"field": "s", "type": "quantitative", "scale": {"domain": [-5, 105], "nice": false, "zero": false}, "axis": {"values": [0, 25, 50, 75, 100], "title": null}}},
   "layer": [
    {"transform": [{"filter": "datum.k == 's'"}], "mark": {"type": "line", "interpolate": "step-after", "strokeWidth": 1.6}, "encoding": {"color": {"field": "g", "type": "nominal", "scale": {"domain": ["hi", "lo"], "range": ["#C00000", "#4A96C8"]}, "legend": null}}},
    {"transform": [{"filter": "datum.k == 'c'"}], "mark": {"type": "tick", "orient": "vertical", "size": 7, "thickness": 1.3}, "encoding": {"color": {"field": "g", "type": "nominal", "scale": {"domain": ["hi", "lo"], "range": ["#C00000", "#4A96C8"]}, "legend": null}}},
    {"transform": [{"filter": "datum.k == 'l'"}], "mark": {"type": "text", "align": "right", "baseline": "alphabetic", "font": "Lato", "fontSize": 13, "color": "#222"}, "encoding": {"text": {"field": "txt"}}},
    {"transform": [{"filter": "datum.k == 'p'"}], "mark": {"type": "text", "align": "left", "baseline": "alphabetic", "font": "Liberation Sans", "fontSize": 15, "fontStyle": "italic", "color": "#111"}, "encoding": {"text": {"value": "P"}}},
    {"transform": [{"filter": "datum.k == 'p'"}], "mark": {"type": "text", "align": "left", "baseline": "alphabetic", "font": "Liberation Sans", "fontSize": 15, "dx": 10, "color": "#111"}, "encoding": {"text": {"field": "txt"}}},
    {"transform": [{"filter": "datum.k == 'n'"}], "mark": {"type": "text", "align": "center", "baseline": "alphabetic", "font": "Liberation Sans", "fontSize": 20, "fontWeight": "bold", "color": "#111"}, "encoding": {"text": {"field": "txt"}}}
   ]},
  {"title": "LA booster strain", "width": 175, "height": 187, "transform": [{"filter": "datum.p == 'F'"}],
   "encoding": {"x": {"field": "t", "type": "quantitative", "scale": {"domain": [-0.7, 10.4], "nice": false, "zero": false}, "axis": {"values": [0, 5, 10], "title": "Time in years"}},
                "y": {"field": "s", "type": "quantitative", "scale": {"domain": [-5, 105], "nice": false, "zero": false}, "axis": {"values": [0, 25, 50, 75, 100], "title": null}}},
   "layer": [
    {"transform": [{"filter": "datum.k == 's'"}], "mark": {"type": "line", "interpolate": "step-after", "strokeWidth": 1.6}, "encoding": {"color": {"field": "g", "type": "nominal", "scale": {"domain": ["hi", "lo"], "range": ["#C00000", "#4A96C8"]}, "legend": null}}},
    {"transform": [{"filter": "datum.k == 'c'"}], "mark": {"type": "tick", "orient": "vertical", "size": 7, "thickness": 1.3}, "encoding": {"color": {"field": "g", "type": "nominal", "scale": {"domain": ["hi", "lo"], "range": ["#C00000", "#4A96C8"]}, "legend": null}}},
    {"transform": [{"filter": "datum.k == 'l'"}], "mark": {"type": "text", "align": "right", "baseline": "alphabetic", "font": "Lato", "fontSize": 13, "color": "#222"}, "encoding": {"text": {"field": "txt"}}},
    {"transform": [{"filter": "datum.k == 'p'"}], "mark": {"type": "text", "align": "left", "baseline": "alphabetic", "font": "Liberation Sans", "fontSize": 15, "fontStyle": "italic", "color": "#111"}, "encoding": {"text": {"value": "P"}}},
    {"transform": [{"filter": "datum.k == 'p'"}], "mark": {"type": "text", "align": "left", "baseline": "alphabetic", "font": "Liberation Sans", "fontSize": 15, "dx": 10, "color": "#111"}, "encoding": {"text": {"field": "txt"}}},
    {"transform": [{"filter": "datum.k == 'n'"}], "mark": {"type": "text", "align": "center", "baseline": "alphabetic", "font": "Liberation Sans", "fontSize": 20, "fontWeight": "bold", "color": "#111"}, "encoding": {"text": {"field": "txt"}}}
   ]}
]
}
